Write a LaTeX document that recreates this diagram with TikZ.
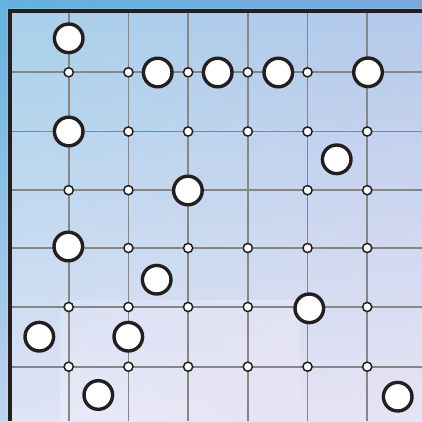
\documentclass[tikz,border=0pt]{standalone}
\usepackage{tikz}
\usetikzlibrary{shadings}
\definecolor{frame}{HTML}{231F20}
\definecolor{gridc}{HTML}{868686}
\definecolor{bgUL}{RGB}{165,208,234}
\definecolor{bgUR}{RGB}{180,200,234}
\definecolor{bgLL}{RGB}{222,227,245}
\definecolor{bgLR}{RGB}{232,228,244}
\definecolor{hiUL}{RGB}{226,228,246}
\definecolor{hiUR}{RGB}{236,234,248}
\definecolor{hiLL}{RGB}{240,240,250}
\definecolor{hiLR}{RGB}{232,228,244}
\definecolor{stUL}{RGB}{98,178,222}
\definecolor{stUR}{RGB}{122,170,218}
\definecolor{stLL}{RGB}{192,212,239}
\tikzset{
  stone/.style={circle, draw=frame, line width=3.4pt, fill=white, minimum size=28.6pt, inner sep=0pt, outer sep=0pt},
  marker/.style={circle, draw=frame, line width=1.5pt, fill=white, minimum size=9.2pt, inner sep=0pt, outer sep=0pt},
  gridline/.style={draw=gridc, line width=1.8pt},
  framestyle/.style={draw=frame, line width=4.4pt}
}
\begin{document}
\begin{tikzpicture}[x=1pt, y=-1pt]
\useasboundingbox (0,0) rectangle (422,421);
% background
\shade[upper left=bgUL, upper right=bgUR, lower left=bgLL, lower right=bgLR]
  (0,0) rectangle (422,421);
\shade[upper left=hiUL, upper right=hiUR, lower left=hiLL, lower right=hiLR, opacity=0.55]
  (60,300) rectangle (300,421);
% outer strip
\shade[upper left=stUL, upper right=stUR, lower left=stLL, lower right=stUR]
  (0,0) -- (422,0) -- (422,8.7) -- (7.7,8.7) -- (7.7,421) -- (0,421) -- cycle;
% grid
\foreach \x in {68.7,128.4,188.1,247.8,307.5,367.2}
  \draw[gridline] (\x,13) -- (\x,421);
\foreach \y in {72.3,131.5,190.2,248,307,366.7}
  \draw[gridline] (12,\y) -- (422,\y);
% frame
\draw[framestyle] (9.85,421) -- (9.85,10.85) -- (422,10.85);
% markers
\foreach \i/\x in {0/68.7,1/128.4,2/188.1,3/247.8,4/307.5}
  \node[marker] (m\i-0) at (\x,72.3) {};
\foreach \i/\x in {1/128.4,2/188.1,3/247.8,4/307.5,5/367.2}
  \node[marker] (m\i-1) at (\x,131.5) {};
\foreach \i/\x in {0/68.7,1/128.4,4/307.5,5/367.2}
  \node[marker] (m\i-2) at (\x,190.2) {};
\foreach \i/\x in {1/128.4,2/188.1,3/247.8,4/307.5,5/367.2}
  \node[marker] (m\i-3) at (\x,248) {};
\foreach \i/\x in {0/68.7,1/128.4,2/188.1,3/247.8,5/367.2}
  \node[marker] (m\i-4) at (\x,307) {};
\foreach \i/\x in {0/68.7,1/128.4,2/188.1,3/247.8,4/307.5,5/367.2}
  \node[marker] (m\i-5) at (\x,366.7) {};
% stones
\node[stone] (s1) at (68.7,38.3) {};
\node[stone] (s2) at (157.7,72.5) {};
\node[stone] (s3) at (217.7,72.5) {};
\node[stone] (s4) at (278.3,72.5) {};
\node[stone] (s5) at (368,72.3) {};
\node[stone] (s6) at (68.7,131.5) {};
\node[stone] (s7) at (336.7,159.3) {};
\node[stone] (s8) at (187.9,190.5) {};
\node[stone] (s9) at (68.3,246.5) {};
\node[stone] (s10) at (156.7,279.7) {};
\node[stone] (s11) at (309.3,308.3) {};
\node[stone] (s12) at (39.3,336.7) {};
\node[stone] (s13) at (128.3,336.7) {};
\node[stone] (s14) at (98.3,395) {};
\node[stone] (s15) at (397.7,396.7) {};
\end{tikzpicture}
\end{document}
